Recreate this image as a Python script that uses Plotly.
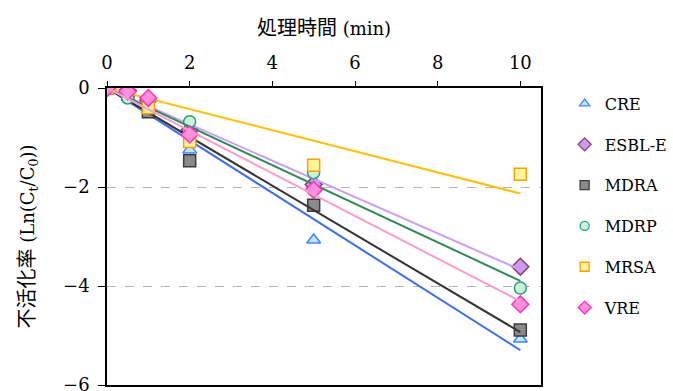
import numpy as np
import plotly.graph_objects as go

# ---- data ----
times = [0, 0.5, 1, 2, 5, 10]
series_names = ["CRE", "ESBL-E", "MDRA", "MDRP", "MRSA", "VRE"]
cre = [0, -0.10, -0.40, -1.25, -3.07, -5.07]
esbl_e = [0, -0.05, -0.25, -0.85, -1.95, -3.61]
mdra = [0, -0.12, -0.48, -1.47, -2.37, -4.89]
mdrp = [0, -0.20, -0.34, -0.68, -1.71, -4.04]
mrsa = [0, 0.00, -0.40, -1.08, -1.56, -1.74]
vre = [0, -0.07, -0.20, -0.94, -2.06, -4.37]
x_ticks = [0, 2, 4, 6, 8, 10]
y_ticks = [0, -2, -4, -6]

values = [cre, esbl_e, mdra, mdrp, mrsa, vre]

styles = {
    "CRE":    dict(symbol="triangle-up", fill="#c4e4ff", edge="#3d86ff", line="#3b6ff0", size=12),
    "ESBL-E": dict(symbol="diamond", fill="#c89af0", edge="#8c3c70", line="#c9a0f5", size=13),
    "MDRA":   dict(symbol="square", fill="#8a8a8a", edge="#3c3c3c", line="#333333", size=12),
    "MDRP":   dict(symbol="circle", fill="#c9f5d6", edge="#2a9a86", line="#2e8b57", size=12),
    "MRSA":   dict(symbol="square", fill="#fff59a", edge="#ffa000", line="#ffc000", size=12),
    "VRE":    dict(symbol="diamond", fill="#ff8fd8", edge="#ff30c8", line="#ff9ccc", size=13),
}

serif = "DejaVu Serif"
cjk = "Noto Sans CJK JP"

fig = go.Figure()
t = np.array(times, dtype=float)
for name, vals in zip(series_names, values):
    s = styles[name]
    v = np.array(vals, dtype=float)
    fig.add_trace(go.Scatter(
        x=times, y=vals, mode="markers", name=name, showlegend=False,
        marker=dict(symbol=s["symbol"], size=s["size"], color=s["fill"],
                    line=dict(color=s["edge"], width=1.5)),
    ))
    # linear trendline through origin (least squares)
    slope = float((t * v).sum() / (t * t).sum())
    xs = [t.min(), t.max()]
    fig.add_trace(go.Scatter(
        x=xs, y=[slope * xv for xv in xs], mode="lines", showlegend=False,
        line=dict(color=s["line"], width=2), hoverinfo="skip",
    ))

# legend entries (smaller symbols, like the reference legend)
for name in series_names:
    s = styles[name]
    fig.add_trace(go.Scatter(
        x=[None], y=[None], mode="markers", name=name, legendgroup=name,
        marker=dict(symbol=s["symbol"], size=s["size"] - 3, color=s["fill"],
                    line=dict(color=s["edge"], width=1.3)),
    ))

fig.update_layout(
    width=673, height=391,
    margin=dict(l=107, r=132, t=88, b=6, autoexpand=False),
    paper_bgcolor="white", plot_bgcolor="white",
    font=dict(family=serif, size=18, color="black"),
    showlegend=True,
    legend=dict(
        xref="container", yref="container",
        x=0.839, xanchor="left", y=0.474, yanchor="middle", maxheight=380,
        font=dict(family=serif, size=16, color="black"),
        traceorder="grouped", tracegroupgap=17,
        bgcolor="rgba(0,0,0,0)",
    ),
    xaxis=dict(
        side="top", range=[0, 10.5], tickvals=x_ticks, automargin=False,
        ticks="outside", ticklen=5, tickwidth=1.3, tickcolor="black",
        showline=True, linecolor="black", linewidth=1.5, mirror=True,
        showgrid=False, zeroline=False, ticklabelstandoff=5,
        tickfont=dict(family=serif, size=18),
        title=dict(text=f"<span style='font-family:{cjk};font-size:20px'>処理時間</span> (min)",
                   font=dict(family=serif, size=18), standoff=12),
    ),
    yaxis=dict(
        range=[-6, 0], tickvals=y_ticks, ticklabeloverflow="allow", automargin=False,
        ticks="outside", ticklen=7, tickwidth=1.3, tickcolor="black",
        showline=True, linecolor="black", linewidth=1.5, mirror=True,
        showgrid=True, gridcolor="#b5b5b5", griddash="dash", gridwidth=1,
        zeroline=False, ticklabelstandoff=5,
        tickfont=dict(family=serif, size=18),
        title=dict(text=f"<span style='font-family:{cjk};font-size:20px'>不活化率</span> (Ln(C<sub>t</sub>/C<sub>0</sub>))",
                   font=dict(family=serif, size=18), standoff=24),
    ),
)

fig.write_html("out.html")
